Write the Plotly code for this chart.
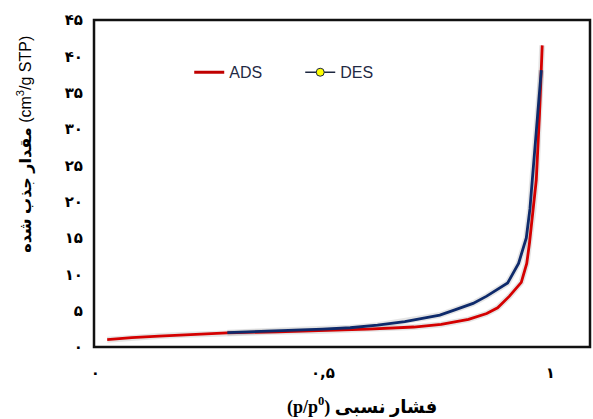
import plotly.graph_objects as go

# ---- data ----
ads_x = [0.026, 0.08, 0.14, 0.20, 0.29, 0.40, 0.50, 0.60, 0.70, 0.76, 0.82, 0.86,
         0.884, 0.91, 0.936, 0.948, 0.954, 0.962, 0.969, 0.976, 0.982]
ads_y = [1.0, 1.3, 1.5, 1.7, 1.95, 2.1, 2.25, 2.45, 2.75, 3.1, 3.8, 4.6,
         5.4, 7.0, 8.9, 11.5, 14.3, 18.5, 23.0, 32.0, 41.5]

des_x = [0.29, 0.40, 0.50, 0.56, 0.62, 0.68, 0.72, 0.757, 0.79, 0.83, 0.86,
         0.906, 0.93, 0.947, 0.955, 0.96, 0.966, 0.971, 0.98]
des_y = [1.97, 2.2, 2.45, 2.65, 3.0, 3.5, 4.0, 4.4, 5.1, 6.0, 7.0,
         8.8, 11.5, 15.0, 19.0, 23.0, 28.0, 32.0, 38.1]

y_tickvals = [0, 5, 10, 15, 20, 25, 30, 35, 40, 45]
y_ticktext = ["۰", "۵", "۱۰", "۱۵", "۲۰", "۲۵", "۳۰", "۳۵", "۴۰", "۴۵"]
x_tickvals = [0, 0.5, 1]
x_ticktext = ["۰", "۰,۵", "۱"]

series_names = ["ADS", "DES"]
x_title = "<b>(p/p<sup>0</sup>) فشار نسبی</b>"
y_title = "<b>مقدار جذب شده</b> (cm<sup>3</sup>/g STP)"

RED = "#d40000"
NAVY = "#0e2a6b"

fig = go.Figure()

# soft shadows under the curves
for xs, ys in [(ads_x, ads_y), (des_x, des_y)]:
    fig.add_trace(go.Scatter(x=xs, y=ys, mode="lines", showlegend=False,
                             hoverinfo="skip",
                             line=dict(color="rgba(0,0,0,0.10)", width=6)))

fig.add_trace(go.Scatter(x=ads_x, y=ads_y, mode="lines", name=series_names[0],
                         showlegend=False, line=dict(color=RED, width=2.8)))
fig.add_trace(go.Scatter(x=des_x, y=des_y, mode="lines", name=series_names[1],
                         showlegend=False, line=dict(color=NAVY, width=2.8)))

# legend entries
fig.add_trace(go.Scatter(x=[None], y=[None], mode="lines", name=series_names[0],
                         line=dict(color="#c00000", width=3)))
fig.add_trace(go.Scatter(x=[None], y=[None], mode="lines+markers", name=series_names[1],
                         line=dict(color="#1c2740", width=1.5),
                         marker=dict(color="#ffff00", size=8,
                                     line=dict(color="#1c2740", width=1))))

fig.update_layout(
    width=593, height=419,
    margin=dict(l=94, r=3, t=20, b=72),
    paper_bgcolor="white", plot_bgcolor="white",
    showlegend=True,
    legend=dict(orientation="h", x=0.192, y=0.84, xanchor="left", yanchor="middle",
                font=dict(family="Liberation Sans, Arial, sans-serif", size=16,
                          color="#1f2a44"),
                bgcolor="rgba(0,0,0,0)", entrywidth=66, entrywidthmode="pixels",
                tracegroupgap=0),
    shapes=[dict(type="rect", xref="paper", yref="paper", x0=0, x1=1, y0=0, y1=1,
                 line=dict(color="#111111", width=2.5), fillcolor="rgba(0,0,0,0)",
                 layer="above")],
    annotations=[
        dict(text=y_title, xref="paper", yref="paper", x=-0.14, y=0.62,
             xanchor="center", yanchor="middle", textangle=-90, showarrow=False,
             font=dict(family="Liberation Sans, DejaVu Sans, sans-serif", size=16,
                       color="black")),
        dict(text=x_title, xref="paper", yref="paper", x=0.541, y=-0.18,
             xanchor="center", yanchor="middle", showarrow=False,
             font=dict(family="Liberation Serif, DejaVu Serif, DejaVu Sans, serif",
                       size=18, color="black")),
    ],
)

fig.update_xaxes(range=[-0.003, 1.087], tickvals=x_tickvals, ticktext=x_ticktext,
                 showgrid=False, zeroline=False, showline=False,
                 ticks="", ticklabelstandoff=15,
                 tickfont=dict(family="DejaVu Sans, sans-serif", size=15,
                               color="black", weight="bold"))
fig.update_yaxes(range=[0, 45], tickvals=y_tickvals, ticktext=y_ticktext,
                 showgrid=False, zeroline=False, showline=False,
                 ticks="", ticklabelstandoff=10,
                 tickfont=dict(family="DejaVu Sans, sans-serif", size=15,
                               color="black", weight="bold"))

fig.write_html("out.html", config={"displayModeBar": False},
               post_script="document.body.style.margin='0';"
                           "document.body.style.overflow='hidden';")
